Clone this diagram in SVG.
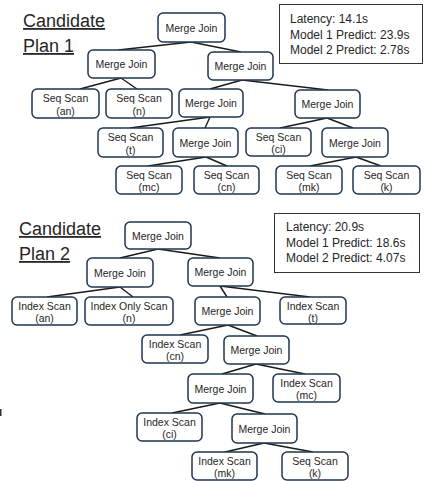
<svg xmlns="http://www.w3.org/2000/svg" width="427" height="481" viewBox="0 0 427 481">
<style>
.n rect{fill:#fff;stroke:#1f3553;stroke-width:1.5}
.n text{font-family:"Liberation Sans",Arial,sans-serif;font-size:10.5px;fill:#262626;text-anchor:middle}
.c line{stroke:#1a1a1a;stroke-width:1.4}
.t{font-family:"Liberation Sans",Arial,sans-serif;font-size:18px;fill:#262626;text-decoration:underline}
.info rect{fill:#fff;stroke:#333;stroke-width:1}
.info text{font-family:"Liberation Sans",Arial,sans-serif;font-size:12px;fill:#262626}
</style>
<rect width="427" height="481" fill="#fff"/>
<text class="t" x="23" y="27">Candidate</text>
<text class="t" x="23" y="52">Plan 1</text>
<text class="t" x="19" y="235">Candidate</text>
<text class="t" x="19" y="260">Plan 2</text>
<rect x="0" y="409" width="1.5" height="7" fill="#333"/>
<g id="info1" class="info">
<rect x="279.5" y="4.5" width="143" height="59"/>
<text x="290" y="23">Latency: 14.1s</text>
<text x="290" y="38.5">Model 1 Predict: 23.9s</text>
<text x="290" y="54">Model 2 Predict: 2.78s</text>
</g>
<g id="info2" class="info">
<rect x="274.5" y="213.5" width="145" height="59"/>
<text x="286" y="231">Latency: 20.9s</text>
<text x="286" y="246.5">Model 1 Predict: 18.6s</text>
<text x="286" y="262">Model 2 Predict: 4.07s</text>
</g>
<g id="connectors" class="c">
<line x1="191" y1="42" x2="118" y2="50"/>
<line x1="191" y1="42" x2="241" y2="52"/>
<line x1="121" y1="78" x2="80" y2="89"/>
<line x1="121" y1="78" x2="137" y2="89"/>
<line x1="242" y1="80" x2="210" y2="89"/>
<line x1="242" y1="80" x2="328" y2="90"/>
<line x1="210" y1="117" x2="130" y2="128"/>
<line x1="210" y1="117" x2="205" y2="128"/>
<line x1="327" y1="118" x2="280" y2="128"/>
<line x1="327" y1="118" x2="353" y2="128"/>
<line x1="206" y1="157" x2="148" y2="166"/>
<line x1="206" y1="157" x2="227" y2="166"/>
<line x1="356" y1="157" x2="310" y2="166"/>
<line x1="356" y1="157" x2="381" y2="166"/>
<line x1="158" y1="249" x2="120" y2="258"/>
<line x1="158" y1="249" x2="220" y2="258"/>
<line x1="120" y1="287" x2="47" y2="297"/>
<line x1="120" y1="287" x2="133" y2="297"/>
<line x1="220" y1="286" x2="227" y2="297"/>
<line x1="220" y1="286" x2="310" y2="297"/>
<line x1="228" y1="325" x2="180" y2="335"/>
<line x1="228" y1="325" x2="257" y2="336"/>
<line x1="256" y1="364" x2="222" y2="374"/>
<line x1="256" y1="364" x2="305" y2="374"/>
<line x1="220" y1="403" x2="172" y2="413"/>
<line x1="220" y1="403" x2="265" y2="414"/>
<line x1="264" y1="443" x2="225" y2="452"/>
<line x1="264" y1="443" x2="313" y2="452"/>
</g>
<g id="p1_mj0" class="n"><rect x="158" y="13" width="67" height="29" rx="5"/><text x="191.5" y="31.5">Merge Join</text></g>
<g id="p1_mj1" class="n"><rect x="88" y="50" width="67" height="28" rx="5"/><text x="121.5" y="68">Merge Join</text></g>
<g id="p1_ss_an" class="n"><rect x="32" y="89" width="67" height="29" rx="5"/><text x="65.5" y="101.5">Seq Scan</text><text x="65.5" y="114.5">(an)</text></g>
<g id="p1_ss_n" class="n"><rect x="106" y="89" width="66" height="29" rx="5"/><text x="139" y="101.5">Seq Scan</text><text x="139" y="114.5">(n)</text></g>
<g id="p1_mj2" class="n"><rect x="208" y="52" width="65" height="28" rx="5"/><text x="240.5" y="70">Merge Join</text></g>
<g id="p1_mj3" class="n"><rect x="179" y="89" width="64" height="28" rx="5"/><text x="211" y="107">Merge Join</text></g>
<g id="p1_mj4" class="n"><rect x="295" y="90" width="65" height="28" rx="5"/><text x="327.5" y="108">Merge Join</text></g>
<g id="p1_ss_t" class="n"><rect x="98" y="128" width="65" height="29" rx="5"/><text x="130.5" y="140.5">Seq Scan</text><text x="130.5" y="153.5">(t)</text></g>
<g id="p1_mj5" class="n"><rect x="173" y="128" width="65" height="29" rx="5"/><text x="205.5" y="146.5">Merge Join</text></g>
<g id="p1_ss_ci" class="n"><rect x="246" y="128" width="65" height="28" rx="5"/><text x="278.5" y="140.5">Seq Scan</text><text x="278.5" y="153">(ci)</text></g>
<g id="p1_mj6" class="n"><rect x="322" y="128" width="66" height="29" rx="5"/><text x="355" y="146.5">Merge Join</text></g>
<g id="p1_ss_mc" class="n"><rect x="116" y="166" width="66" height="28" rx="5"/><text x="149" y="178.5">Seq Scan</text><text x="149" y="191">(mc)</text></g>
<g id="p1_ss_cn" class="n"><rect x="194" y="166" width="65" height="28" rx="5"/><text x="226.5" y="178.5">Seq Scan</text><text x="226.5" y="191">(cn)</text></g>
<g id="p1_ss_mk" class="n"><rect x="276" y="166" width="66" height="28" rx="5"/><text x="309" y="178.5">Seq Scan</text><text x="309" y="191">(mk)</text></g>
<g id="p1_ss_k" class="n"><rect x="353" y="166" width="67" height="28" rx="5"/><text x="386.5" y="178.5">Seq Scan</text><text x="386.5" y="191">(k)</text></g>
<g id="p2_mj0" class="n"><rect x="125" y="222" width="66" height="27" rx="5"/><text x="158" y="239.5">Merge Join</text></g>
<g id="p2_mj1" class="n"><rect x="87" y="258" width="66" height="29" rx="5"/><text x="120" y="276.5">Merge Join</text></g>
<g id="p2_mj2" class="n"><rect x="188" y="258" width="65" height="28" rx="5"/><text x="220.5" y="276">Merge Join</text></g>
<g id="p2_is_an" class="n"><rect x="12" y="297" width="65" height="28" rx="5"/><text x="44.5" y="309.5">Index Scan</text><text x="44.5" y="322">(an)</text></g>
<g id="p2_ios_n" class="n"><rect x="85" y="297" width="88" height="28" rx="5"/><text x="129" y="309.5">Index Only Scan</text><text x="129" y="322">(n)</text></g>
<g id="p2_mj3" class="n"><rect x="195" y="297" width="65" height="28" rx="5"/><text x="227.5" y="315">Merge Join</text></g>
<g id="p2_is_t" class="n"><rect x="280" y="297" width="66" height="27" rx="5"/><text x="313" y="309.5">Index Scan</text><text x="313" y="321.5">(t)</text></g>
<g id="p2_is_cn" class="n"><rect x="142" y="335" width="66" height="28" rx="5"/><text x="175" y="347.5">Index Scan</text><text x="175" y="360">(cn)</text></g>
<g id="p2_mj4" class="n"><rect x="224" y="336" width="65" height="28" rx="5"/><text x="256.5" y="354">Merge Join</text></g>
<g id="p2_mj5" class="n"><rect x="188" y="374" width="65" height="29" rx="5"/><text x="220.5" y="392.5">Merge Join</text></g>
<g id="p2_is_mc" class="n"><rect x="273" y="374" width="67" height="28" rx="5"/><text x="306.5" y="386.5">Index Scan</text><text x="306.5" y="399">(mc)</text></g>
<g id="p2_is_ci" class="n"><rect x="137" y="413" width="65" height="28" rx="5"/><text x="169.5" y="425.5">Index Scan</text><text x="169.5" y="438">(ci)</text></g>
<g id="p2_mj6" class="n"><rect x="232" y="414" width="65" height="29" rx="5"/><text x="264.5" y="432.5">Merge Join</text></g>
<g id="p2_is_mk" class="n"><rect x="192" y="452" width="65" height="28" rx="5"/><text x="224.5" y="464.5">Index Scan</text><text x="224.5" y="477">(mk)</text></g>
<g id="p2_ss_k" class="n"><rect x="282" y="452" width="66" height="28" rx="5"/><text x="315" y="464.5">Seq Scan</text><text x="315" y="477">(k)</text></g>
</svg>
